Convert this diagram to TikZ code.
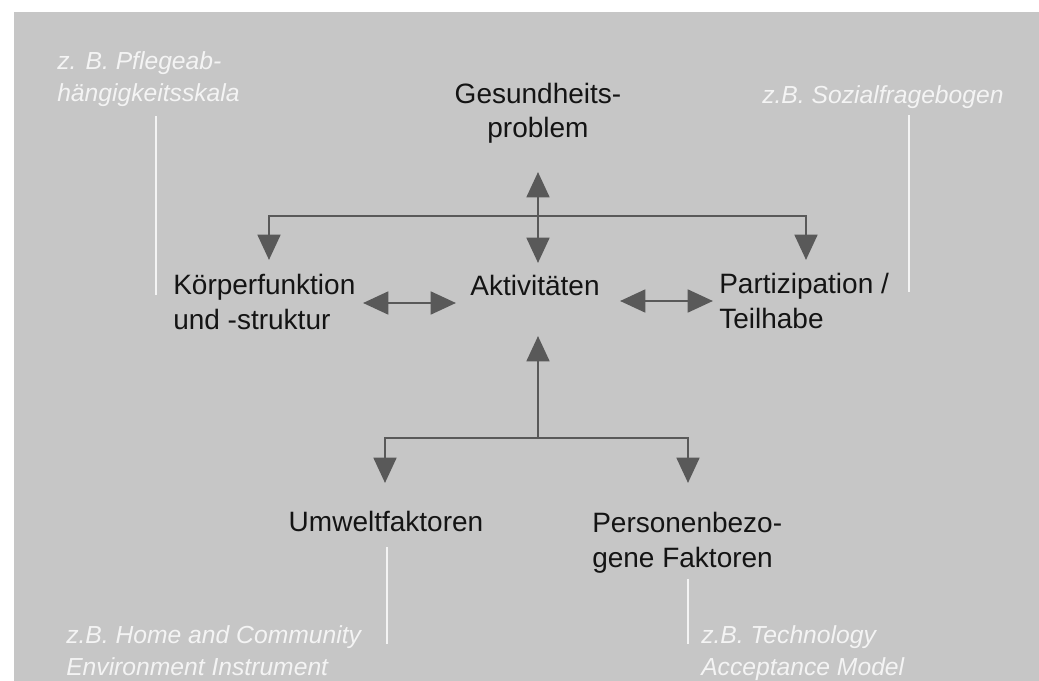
\documentclass[tikz,border=0pt]{standalone}
\usepackage{fontspec}
\setmainfont{Liberation Sans}
\usetikzlibrary{arrows.meta}
\definecolor{bg}{HTML}{C6C6C6}
\definecolor{arrowgray}{HTML}{595959}
\definecolor{notewhite}{HTML}{F4F4F4}
\definecolor{ink}{HTML}{141414}

\begin{document}
\begin{tikzpicture}[x=0.75pt,y=-0.75pt,
  concept/.style={inner sep=0pt, font=\fontsize{21}{26}\selectfont, text=ink},
  note/.style={inner sep=0pt, font=\fontsize{18.5}{24}\selectfont\itshape, text=notewhite, align=left},
  tip/.tip={Triangle[width=17pt,length=19pt]},
  link/.style={draw=arrowgray, line width=2.2pt, -tip},
  biarrow/.style={draw=arrowgray, line width=2.2pt, tip-tip},
  pointer/.style={draw=notewhite, line width=1.8pt}]
\useasboundingbox (0,0) rectangle (1039,681);
\fill[bg] (14,12) rectangle (1039,681);

% ICF components (base anchor = baseline of the last line)
\node[concept, align=center, anchor=base] (health) at (538,138) {Gesundheits-\\problem};
\node[concept, anchor=base] (act) at (535,295) {Aktivitäten};
\node[concept, align=left, anchor=base west] (body) at (173,329) {Körperfunktion\\und -struktur};
\node[concept, align=left, anchor=base west] (part) at (719,328) {Partizipation /\\Teilhabe};
\node[concept, anchor=base] (env) at (386,531) {Umweltfaktoren};
\node[concept, align=left, anchor=base west] (pers) at (592,567) {Personenbezo-\\gene Faktoren};

% assessment examples
\node[note, anchor=base west] (n1) at (57,102) {z. B. Pflegeab-\\hängigkeitsskala};
\node[note, anchor=base west] (n2) at (762,104) {z.B. Sozialfragebogen};
\node[note, anchor=base west] (n3) at (66,675) {z.B. Home and Community\\Environment Instrument};
\node[note, anchor=base west] (n4) at (701,675) {z.B. Technology\\Acceptance Model};

% connector end points
\coordinate (upTip) at (538,172);
\coordinate (downTip) at (538,263);
\coordinate (hubTop) at (538,216);
\coordinate (bodyTip) at (269,260);
\coordinate (partTip) at (806,260);
\coordinate (bodyEnd) at (363,303);
\coordinate (actWest) at (456,303);
\coordinate (actEast) at (620,301);
\coordinate (partEnd) at (713,301);
\coordinate (actTip) at (538,336);
\coordinate (hubBot) at (538,438);
\coordinate (envTip) at (385,483);
\coordinate (persTip) at (688,483);

% upper branch
\draw[link] (hubTop) -| (bodyTip);
\draw[link] (hubTop) -| (partTip);
\draw[biarrow] (upTip) -- (downTip);
\draw[biarrow] (bodyEnd) -- (actWest);
\draw[biarrow] (actEast) -- (partEnd);

% lower branch
\draw[link] (hubBot) -- (actTip);
\draw[link] (hubBot) -| (envTip);
\draw[link] (hubBot) -| (persTip);

% pointer lines of the examples
\coordinate (p1a) at (156,116); \coordinate (p1b) at (156,295);
\coordinate (p2a) at (909,115); \coordinate (p2b) at (909,292);
\coordinate (p3a) at (387,547); \coordinate (p3b) at (387,644);
\coordinate (p4a) at (688,579); \coordinate (p4b) at (688,644);
\draw[pointer] (p1a) -- (p1b);
\draw[pointer] (p2a) -- (p2b);
\draw[pointer] (p3a) -- (p3b);
\draw[pointer] (p4a) -- (p4b);
\end{tikzpicture}
\end{document}
